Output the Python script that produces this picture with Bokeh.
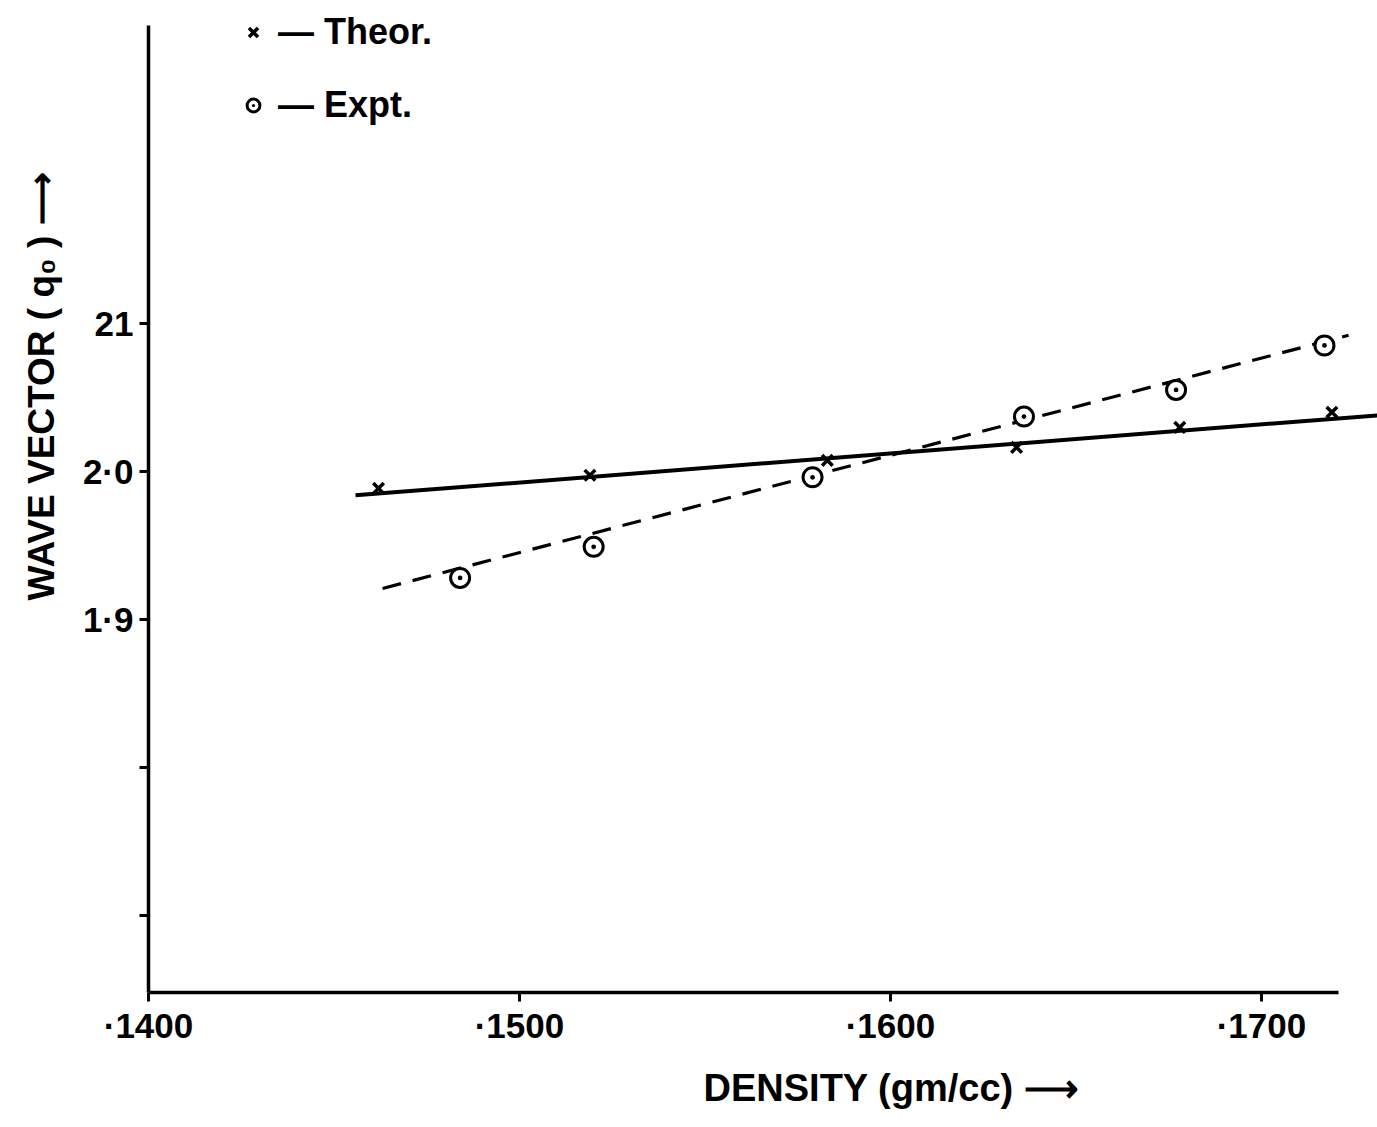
from bokeh.plotting import figure
from bokeh.models import Range1d, FixedTicker, Legend, LegendItem, Title
from bokeh.embed import file_html
from bokeh.resources import INLINE

# Density in gm/cc and wave vector q0
theor_density = [0.1462, 0.1519, 0.1583, 0.1634, 0.1678, 0.1719]
theor_q = [1.9885, 1.9973, 2.0074, 2.0162, 2.0297, 2.0399]
expt_density = [0.1484, 0.1520, 0.1579, 0.1636, 0.1677, 0.1717]
expt_q = [1.928, 1.949, 1.996, 2.037, 2.055, 2.085]

# Straight lines drawn through each set of points
theor_fit_density = [0.14558, 0.17313]
theor_fit_q = [1.9838, 2.0378]
expt_fit_density = [0.14631, 0.17235]
expt_fit_q = [1.9209, 2.0919]

x_ticks = [0.14, 0.15, 0.16, 0.17]
x_tick_labels = ["·1400", "·1500", "·1600", "·1700"]
y_ticks = [1.7, 1.8, 1.9, 2.0, 2.1]
y_tick_labels = ["", "", "1·9", "2·0", "21"]

FONT = "Liberation Sans"

p = figure(width=1377, height=1127,
           x_range=Range1d(0.1400, 0.17313), y_range=Range1d(1.648, 2.318),
           output_backend="svg", toolbar_location=None,
           min_border_left=148, min_border_right=0, min_border_top=0, min_border_bottom=135)
p.outline_line_color = None
p.grid.visible = False
p.background_fill_color = "white"

for ax in (p.xaxis[0], p.yaxis[0]):
    ax.axis_line_width = 3.5
    ax.axis_line_color = "black"
    ax.major_tick_line_width = 3
    ax.major_tick_line_color = "black"
    ax.major_tick_in = 0
    ax.major_tick_out = 9
    ax.minor_tick_line_color = None
    ax.major_label_text_font = FONT
    ax.major_label_text_font_style = "bold"
    ax.major_label_text_font_size = "35px"
    ax.major_label_text_color = "black"

xa = p.xaxis[0]
xa.ticker = FixedTicker(ticks=x_ticks, minor_ticks=[])
xa.major_label_overrides = dict(zip(x_ticks, x_tick_labels))
xa.bounds = (0.1400, 0.17208)
xa.major_label_standoff = 4

ya = p.yaxis[0]
ya.ticker = FixedTicker(ticks=y_ticks, minor_ticks=[])
ya.major_label_overrides = dict(zip(y_ticks, y_tick_labels))
ya.bounds = (1.648, 2.301)
ya.major_label_standoff = 6

# fitted lines
p.line(theor_fit_density, theor_fit_q, line_width=4, color="black")
p.line(expt_fit_density, expt_fit_q, line_width=3.2, color="black", line_dash="19 12")

# points
r_theor = p.scatter(theor_density, theor_q, marker="x", size=15, line_width=3.5, color="black")
r_expt = p.scatter(expt_density, expt_q, marker="circle_dot", size=19, line_width=3,
                   line_color="black", fill_color="white")

legend = Legend(
    items=[LegendItem(label="— Theor.", renderers=[r_theor]),
           LegendItem(label="— Expt.", renderers=[r_expt])],
    location=(89, 866), orientation="vertical", padding=0, margin=0, spacing=31,
    glyph_width=32, glyph_height=42, label_height=42, label_standoff=9,
    label_text_font=FONT, label_text_font_style="bold", label_text_font_size="36px",
    label_text_color="black",
    border_line_color=None, background_fill_alpha=0)
p.add_layout(legend)

# axis titles, each ending in an arrow
x_title = Title(text="DENSITY (gm/cc)  ⟶", align="left", offset=555, standoff=35,
                text_font=FONT, text_font_style="bold", text_font_size="38px",
                text_color="black")
p.add_layout(x_title, "below")

y_title = Title(text="WAVE VECTOR (  q₀  )   ⟶", align="left", offset=392, standoff=35,
                text_font=FONT, text_font_style="bold", text_font_size="37px",
                text_color="black")
p.add_layout(y_title, "left")

open("out.html", "w").write(file_html(p, INLINE))
